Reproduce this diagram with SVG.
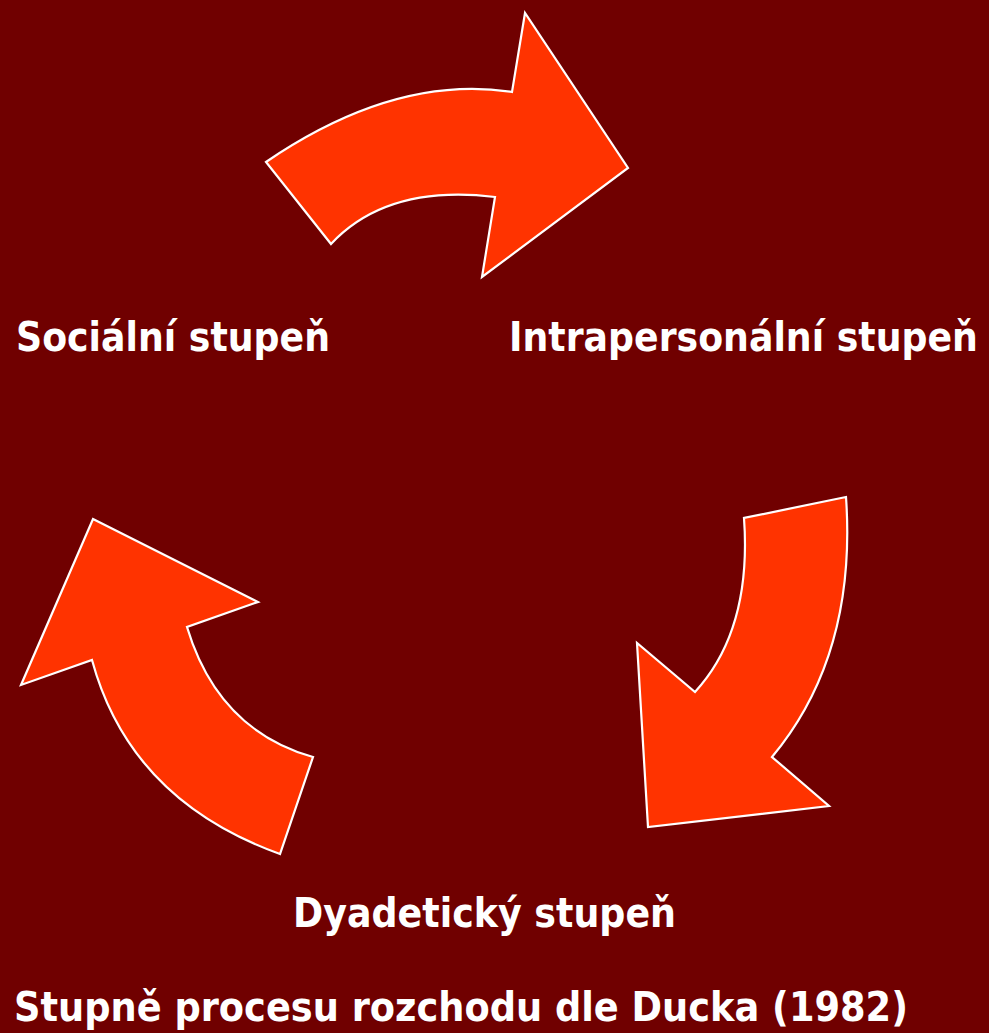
<svg xmlns="http://www.w3.org/2000/svg" width="989" height="1033" viewBox="0 0 989 1033">
<style>
.arrow{fill:#ff3300;stroke:#ffffff;stroke-width:2.2;stroke-linejoin:miter}
.lbl{font-family:"DejaVu Sans","Liberation Sans",sans-serif;font-weight:bold;font-size:40px;fill:#ffffff}
</style>
<rect width="989" height="1033" fill="#700000"/>
<g id="connectors">
<path id="arrow-top" class="arrow" d="M266,162 Q395,74 512,92 L525,13 L628,168 L482,277 L495,197 Q387,184 331,244 Z"/>
<path id="arrow-right" class="arrow" d="M846,497 L744,518 Q752,630 695,692 L637,643 L648,827 L829,806 L772,757 Q857,655 846,497 Z"/>
<path id="arrow-left" class="arrow" d="M93,519 L258,602 L187,627 Q218,730 313,757 L280,854 Q130,800 92,660 L21,685 Z"/>
</g>
<g id="node-social"><text class="lbl" x="16" y="351" textLength="314" lengthAdjust="spacingAndGlyphs">Sociální stupeň</text></g>
<g id="node-intra" transform="translate(509,351) scale(0.907,1)"><text class="lbl" x="0" y="0" textLength="517" lengthAdjust="spacingAndGlyphs">Intrapersonální stupeň</text></g>
<g id="node-dyad"><text class="lbl" x="293" y="927" textLength="383" lengthAdjust="spacingAndGlyphs">Dyadetický stupeň</text></g>
<g id="title"><text class="lbl" x="14" y="1021" textLength="894" lengthAdjust="spacingAndGlyphs">Stupně procesu rozchodu dle Ducka (1982)</text></g>
</svg>
